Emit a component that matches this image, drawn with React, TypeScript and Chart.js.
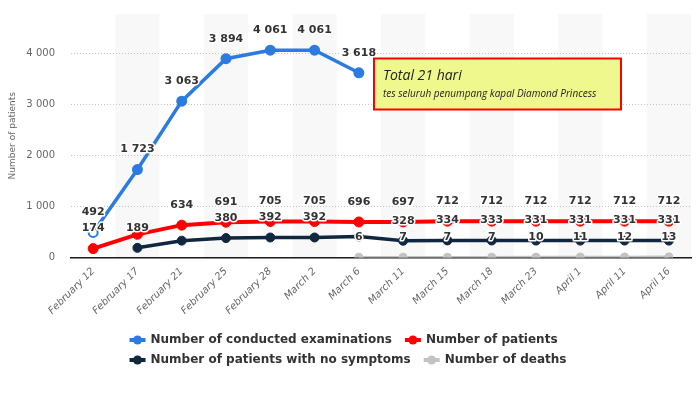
import React, { useEffect, useRef } from "react";
import { Chart, registerables } from "chart.js";

Chart.register(...registerables);

const categories = [
  "February 12", "February 17", "February 21", "February 25", "February 28",
  "March 2", "March 6", "March 11", "March 15", "March 18", "March 23",
  "April 1", "April 11", "April 16",
];
const examinations = [492, 1723, 3063, 3894, 4061, 4061, 3618, null, null, null, null, null, null, null];
const patients = [174, 454, 634, 691, 705, 705, 696, 697, 712, 712, 712, 712, 712, 712];
const noSymptoms = [null, 189, 330, 380, 392, 392, 410, 328, 334, 333, 331, 331, 331, 331];
const deaths = [null, null, null, null, null, null, 6, 7, 7, 7, 10, 11, 12, 13];
const seriesNames = [
  "Number of conducted examinations",
  "Number of patients",
  "Number of patients with no symptoms",
  "Number of deaths",
];
const seriesColors = ["#2b7be0", "#ff0000", "#10283f", "#c3c3c3"];
const yTicks = [0, 1000, 2000, 3000, 4000];
// [seriesIndex, categoryIndex] of value labels hidden in the original (overlap)
const hiddenLabels = [[1, 1], [2, 2], [2, 6]];
const noteTitle = "Total 21 hari";
const noteText = "tes seluruh penumpang kapal Diamond Princess";

const fmt = (v: number) => String(v).replace(/\B(?=(\d{3})+(?!\d))/g, " ");

const bandsPlugin = {
  id: "bands",
  beforeDraw(chart: any) {
    const { ctx, chartArea } = chart;
    const xs = chart.scales.x;
    const w = xs.getPixelForValue(1) - xs.getPixelForValue(0);
    ctx.save();
    ctx.fillStyle = "#f8f8f8";
    for (let i = 1; i < categories.length; i += 2) {
      const cx = xs.getPixelForValue(i);
      ctx.fillRect(cx - w / 2, chartArea.top, w, chartArea.bottom - chartArea.top);
    }
    ctx.restore();
  },
};

const labelsPlugin = {
  id: "valueLabels",
  afterDatasetsDraw(chart: any) {
    const { ctx } = chart;
    ctx.save();
    ctx.font = "bold 11px 'DejaVu Sans'";
    ctx.textAlign = "center";
    ctx.textBaseline = "middle";
    ctx.lineJoin = "round";
    chart.data.datasets.forEach((ds: any, di: number) => {
      const meta = chart.getDatasetMeta(di);
      ds.data.forEach((v: number | null, i: number) => {
        if (v === null || v === undefined) return;
        if (hiddenLabels.some(([a, b]) => a === di && b === i)) return;
        const pt = meta.data[i];
        const t = fmt(v);
        const y = pt.y - 20;
        ctx.strokeStyle = "#ffffff";
        ctx.lineWidth = 3;
        ctx.strokeText(t, pt.x, y);
        ctx.fillStyle = "#333333";
        ctx.fillText(t, pt.x, y);
      });
    });
    ctx.restore();
  },
};

const overlayPlugin = {
  id: "overlay",
  afterDraw(chart: any) {
    const { ctx } = chart;
    ctx.save();
    // annotation box
    ctx.fillStyle = "#eef88c";
    ctx.fillRect(374, 58.5, 247, 51);
    ctx.strokeStyle = "#ff0000";
    ctx.lineWidth = 2;
    ctx.strokeRect(374, 58.5, 247, 51);
    ctx.fillStyle = "#222222";
    ctx.textAlign = "left";
    ctx.textBaseline = "alphabetic";
    ctx.font = "italic 14px 'Open Sans'";
    ctx.fillText(noteTitle, 383, 80);
    ctx.font = "italic 10px 'Open Sans'";
    ctx.fillText(noteText, 383, 97);

    // legend
    ctx.font = "bold 12px 'DejaVu Sans'";
    ctx.textBaseline = "middle";
    const rows = [[0, 1], [2, 3]];
    const marker = 16, gap = 5, itemGap = 13;
    const rowW = rows.map((r) =>
      r.reduce((s, k, j) => s + marker + gap + ctx.measureText(seriesNames[k]).width + (j > 0 ? itemGap : 0), 0)
    );
    const maxW = Math.max(...rowW);
    const startX = 348 - maxW / 2;
    rows.forEach((r, ri) => {
      const y = 340 + ri * 20;
      let x = startX;
      r.forEach((k) => {
        ctx.strokeStyle = seriesColors[k];
        ctx.lineWidth = 4;
        ctx.beginPath();
        ctx.moveTo(x, y);
        ctx.lineTo(x + marker, y);
        ctx.stroke();
        ctx.fillStyle = seriesColors[k];
        ctx.beginPath();
        ctx.arc(x + marker / 2, y, 4.5, 0, Math.PI * 2);
        ctx.fill();
        x += marker + gap;
        ctx.fillStyle = "#333333";
        ctx.fillText(seriesNames[k], x, y);
        x += ctx.measureText(seriesNames[k]).width + itemGap;
      });
    });
    ctx.restore();
  },
};

export default function App() {
  const ref = useRef<HTMLCanvasElement | null>(null);

  useEffect(() => {
    const canvas = ref.current;
    if (!canvas) return;
    const seriesData = [examinations, patients, noSymptoms, deaths];
    const widths = [3.5, 4, 3.5, 2.5];
    const radii = [4.5, 5, 4.5, 4];
    const chart = new Chart(canvas, {
      type: "line",
      data: {
        labels: categories,
        datasets: seriesData.map((d, i) => ({
          label: seriesNames[i],
          data: d,
          borderColor: seriesColors[i],
          backgroundColor: seriesColors[i],
          pointBackgroundColor: (c: any) => (i === 0 && c.dataIndex === 0 ? "#ffffff" : seriesColors[i]),
          pointBorderColor: seriesColors[i],
          pointBorderWidth: i === 0 ? 2 : 1,
          borderWidth: widths[i],
          pointRadius: radii[i],
          pointHoverRadius: radii[i],
          tension: 0,
          spanGaps: false,
          fill: false,
        })),
      },
      options: {
        responsive: false,
        animation: false,
        layout: { autoPadding: false, padding: { left: 0, right: 9, top: 14, bottom: 0 } },
        plugins: {
          legend: { display: false },
          tooltip: { enabled: false },
        },
        scales: {
          x: {
            offset: true,
            grid: { display: false, drawTicks: false },
            border: { display: true, color: "#1a1a1a", width: 1.5 },
            ticks: {
              autoSkip: false,
              maxRotation: 45,
              minRotation: 45,
              padding: 8,
              color: "#666666",
              font: { family: "'DejaVu Sans'", size: 10, style: "italic" },
            },
            afterFit: (s: any) => {
              s.height = 142.5;
              s.paddingLeft = 0;
              s.paddingRight = 0;
            },
          },
          y: {
            min: 0,
            max: 4770,
            afterBuildTicks: (s: any) => {
              s.ticks = yTicks.map((v) => ({ value: v }));
            },
            afterFit: (s: any) => {
              s.width = 71;
              s.paddingTop = 0;
              s.paddingBottom = 0;
            },
            grid: {
              drawTicks: false,
              color: (c: any) => (c.tick && c.tick.value === 0 ? "rgba(0,0,0,0)" : "#c4c4c4"),
              lineWidth: 1,
            },
            border: { display: false, dash: [1, 2] },
            ticks: {
              padding: 16,
              color: "#666666",
              font: { family: "'DejaVu Sans'", size: 10 },
              callback: (v: any) => fmt(Number(v)),
            },
            title: {
              display: true,
              text: "Number of patients",
              color: "#666666",
              font: { family: "'DejaVu Sans'", size: 9 },
              padding: { top: 7, bottom: 0 },
            },
          },
        },
      },
      plugins: [bandsPlugin, labelsPlugin, overlayPlugin],
    } as any);
    return () => chart.destroy();
  }, []);

  return (
    <div style={{ position: "fixed", left: 0, top: 0, width: 700, height: 400, background: "#fff" }}>
      <canvas ref={ref} width={700} height={400} />
    </div>
  );
}
